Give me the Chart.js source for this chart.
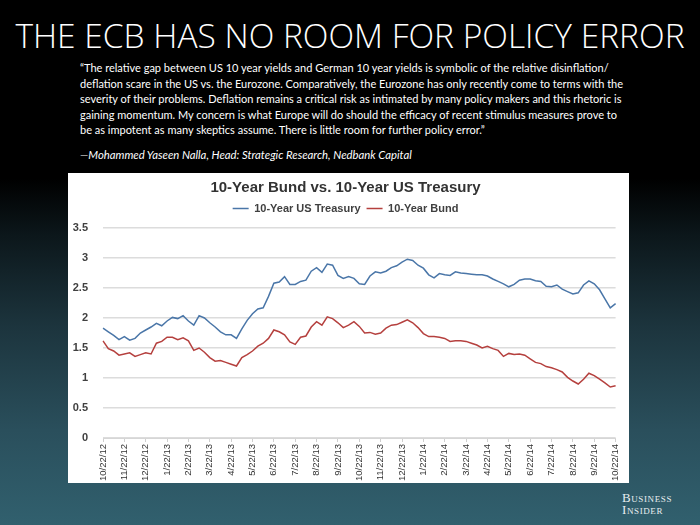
<!DOCTYPE html>
<html>
<head>
<meta charset="utf-8">
<script src="https://cdn.jsdelivr.net/npm/chart.js@4.4.0/dist/chart.umd.min.js"></script>
<style>
  html, body { margin: 0; padding: 0; }
  body {
    width: 700px; height: 525px; position: relative; overflow: hidden;
    background: linear-gradient(to bottom, #000 0%, #000 34%, #0c171b 45%, #1c343d 62%, #2a4f5c 82%, #31606e 100%);
    font-family: "Lato", "Open Sans", sans-serif; color: #fff;
  }
  #headline { position: absolute; left: 0; top: 12px; width: 700px; text-align: center; font-family: "Open Sans", sans-serif; font-weight: 300; font-size: 33.5px; white-space: nowrap; }
  #quote { position: absolute; left: 80px; top: 60px; font-size: 11px; line-height: 15.5px; white-space: nowrap; }
  #source { position: absolute; left: 80px; top: 148px; font-size: 11.3px; font-style: italic; white-space: nowrap; }
  #box { position: absolute; left: 68px; top: 173px; width: 561px; height: 310px; background: #fff; }
  #logo { position: absolute; left: 622px; top: 492px; font-family: "Liberation Serif", serif; font-variant: small-caps; font-size: 13px; line-height: 12px; letter-spacing: 0.6px; color: #e8eef0; }
</style>
</head>
<body>
<div id="headline">THE ECB HAS NO ROOM FOR POLICY ERROR</div>
<div id="quote">“The relative gap between US 10 year yields and German 10 year yields is symbolic of the relative disinflation/<br>
deflation scare in the US vs. the Eurozone. Comparatively, the Eurozone has only recently come to terms with the<br>
severity of their problems. Deflation remains a critical risk as intimated by many policy makers and this rhetoric is<br>
gaining momentum. My concern is what Europe will do should the efficacy of recent stimulus measures prove to<br>
be as impotent as many skeptics assume. There is little room for further policy error.”</div>
<div id="source">—Mohammed Yaseen Nalla, Head: Strategic Research, Nedbank Capital</div>
<div id="box"><canvas id="chart" width="561" height="310"></canvas></div>
<div id="logo">Business<br>Insider</div>

<script>
// month labels on the x axis (one every 4 points)
const tickLabels = ['10/22/12', '11/22/12', '12/22/12', '1/22/13', '2/22/13', '3/22/13', '4/22/13',
    '5/22/13', '6/22/13', '7/22/13', '8/22/13', '9/22/13', '10/22/13', '11/22/13', '12/22/13',
    '1/22/14', '2/22/14', '3/22/14', '4/22/14', '5/22/14', '6/22/14', '7/22/14', '8/22/14',
    '9/22/14', '10/22/14'];

// yields, ~weekly
const treasury = [
    1.83, 1.77, 1.71, 1.64, 1.69, 1.63, 1.66, 1.75, 1.80, 1.85, 1.91, 1.87,
    1.95, 2.01, 1.99, 2.04, 1.95, 1.88, 2.04, 2.00, 1.92, 1.85, 1.77, 1.72,
    1.72, 1.66, 1.82, 1.96, 2.07, 2.15, 2.17, 2.36, 2.58, 2.60, 2.69, 2.56,
    2.56, 2.61, 2.63, 2.78, 2.84, 2.76, 2.90, 2.88, 2.71, 2.66, 2.69, 2.66,
    2.57, 2.56, 2.70, 2.77, 2.75, 2.78, 2.84, 2.87, 2.93, 2.98, 2.96, 2.88,
    2.83, 2.72, 2.67, 2.74, 2.72, 2.71, 2.77, 2.75, 2.74, 2.73, 2.72, 2.72,
    2.70, 2.65, 2.61, 2.57, 2.52, 2.56, 2.63, 2.65, 2.65, 2.62, 2.61, 2.53,
    2.52, 2.55, 2.48, 2.44, 2.40, 2.42, 2.55, 2.62, 2.57, 2.47, 2.32, 2.17,
    2.24];

const bund = [
    1.62, 1.49, 1.45, 1.38, 1.40, 1.42, 1.36, 1.39, 1.42, 1.40, 1.58, 1.61,
    1.68, 1.68, 1.64, 1.67, 1.62, 1.46, 1.50, 1.43, 1.34, 1.28, 1.29, 1.26,
    1.23, 1.20, 1.34, 1.39, 1.45, 1.53, 1.58, 1.66, 1.80, 1.77, 1.72, 1.60,
    1.56, 1.68, 1.70, 1.85, 1.94, 1.88, 2.02, 1.99, 1.92, 1.84, 1.88, 1.94,
    1.86, 1.75, 1.76, 1.73, 1.75, 1.83, 1.88, 1.89, 1.93, 1.97, 1.92, 1.84,
    1.74, 1.69, 1.69, 1.68, 1.66, 1.61, 1.62, 1.62, 1.61, 1.58, 1.55, 1.50,
    1.53, 1.49, 1.46, 1.36, 1.41, 1.39, 1.40, 1.38, 1.32, 1.26, 1.24, 1.19,
    1.17, 1.14, 1.10, 1.01, 0.95, 0.90, 0.98, 1.08, 1.04, 0.98, 0.92, 0.85,
    0.87];

const perMonth = 4;
const labels = treasury.map((v, i) => i % perMonth === 0 ? tickLabels[i / perMonth] : '');

// push the plot area down a bit below the legend
const legendSpace = {
    id: 'legendSpace',
    beforeInit(chart) {
        const fit = chart.legend.fit;
        chart.legend.fit = function () {
            fit.bind(chart.legend)();
            this.height = 31;
        };
    }
};

const ctx = document.getElementById('chart').getContext('2d');
const myChart = new Chart(ctx, {
    type: 'line',
    data: {
        labels: labels,
        datasets: [{
            label: '10-Year US Treasury',
            data: treasury,
            borderColor: '#4a76a8',
            backgroundColor: '#4a76a8',
            borderWidth: 1.5,
            pointRadius: 0,
            pointStyle: 'line',
            tension: 0
        },
        {
            label: '10-Year Bund',
            data: bund,
            borderColor: '#b5403e',
            backgroundColor: '#b5403e',
            borderWidth: 1.5,
            pointRadius: 0,
            pointStyle: 'line',
            tension: 0
        }]
    },
    options: {
        responsive: false,
        animation: false,
        layout: { padding: { left: 0, right: 6, top: 0, bottom: 0 } },
        plugins: {
            title: {
                display: true,
                text: '10-Year Bund vs. 10-Year US Treasury',
                color: '#333',
                font: { family: 'Liberation Sans', size: 15, weight: 'bold' },
                padding: { top: 6, bottom: 0 }
            },
            legend: {
                display: true,
                labels: {
                    usePointStyle: true,
                    pointStyleWidth: 16,
                    padding: 6,
                    color: '#404040',
                    font: { family: 'Liberation Sans', size: 11, weight: 'bold' }
                }
            },
            tooltip: { enabled: false }
        },
        scales: {
            x: {
                afterFit: s => { s.height = 45; },
                grid: { drawOnChartArea: false, tickLength: 4, color: '#cfcfcf' },
                border: { color: '#d6d6d6' },
                ticks: {
                    autoSkip: false,
                    minRotation: 90,
                    maxRotation: 90,
                    padding: 2,
                    color: '#333',
                    font: { family: 'Liberation Sans', size: 9.5 },
                    callback: function (value, index) {
                        return index % perMonth === 0 ? this.getLabelForValue(value) : null;
                    }
                }
            },
            y: {
                min: 0,
                max: 3.5,
                afterFit: s => { s.width = 35; },
                grid: { drawTicks: false, color: '#dcdcdc', lineWidth: 1.5 },
                border: { display: false },
                ticks: {
                    stepSize: 0.5,
                    padding: 15,
                    color: '#404040',
                    font: { family: 'Liberation Sans', size: 11, weight: 'bold' },
                    callback: v => v
                }
            }
        }
    },
    plugins: [legendSpace]
});
</script>
</body>
</html>
